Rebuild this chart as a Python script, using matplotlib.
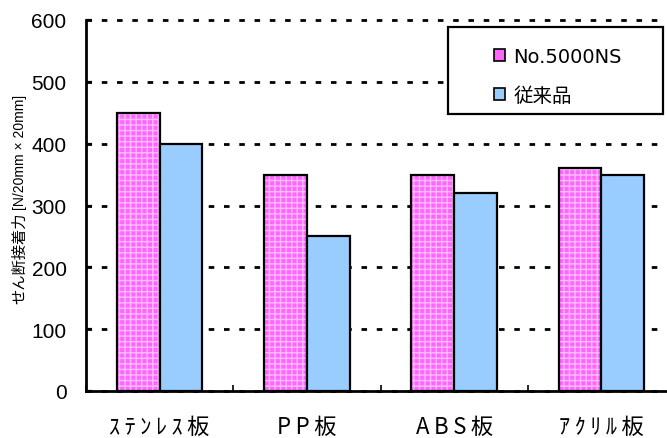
import numpy as np
import matplotlib
matplotlib.use("Agg")
import matplotlib.pyplot as plt
from matplotlib.patches import Patch, Rectangle

plt.rcParams['font.family'] = ['Noto Sans CJK JP', 'DejaVu Sans']
plt.rcParams['hatch.linewidth'] = 1.0

TS = "\u2009"  # thin space, widens the narrow kana / latin labels

categories = ["ｽﾃﾝﾚｽ板", "PP板", "ABS板", "ｱｸﾘﾙ板"]
series_names = ["No.5000NS", "従来品"]
new_values = [450, 350, 350, 360]
old_values = [400, 250, 320, 350]
yticks = [0, 100, 200, 300, 400, 500, 600]

PINK = "#FF66FF"
PINK_LIGHT = "#FFBBFF"
BLUE = "#99CCFF"

fig = plt.figure(figsize=(6.67, 4.39), dpi=100)
ax = fig.add_axes([86 / 667, 47 / 439, 589 / 667, 371 / 439])

x = np.arange(len(categories))
w = 0.29

# patterned fill first, black outline on top
ax.bar(x - w / 2, new_values, w, color=PINK, edgecolor=PINK_LIGHT,
       hatch="+++", linewidth=0, zorder=2)
ax.bar(x - w / 2, new_values, w, fill=False, edgecolor="black",
       linewidth=1.6, zorder=3)
ax.bar(x + w / 2, old_values, w, color=BLUE, edgecolor="black",
       linewidth=1.6, zorder=3)

ax.set_xlim(-0.5, len(categories) - 0.5)
ax.set_ylim(0, 600)
ax.set_yticks(yticks)
ax.set_yticklabels([str(v) for v in yticks], family="Liberation Sans",
                   fontsize=15)
ax.set_xticks(x)
ax.set_xticklabels([TS.join(c) for c in categories], fontsize=16)
ax.set_xticks(np.arange(len(categories) + 1) - 0.5, minor=True)
ax.tick_params(axis="x", which="major", length=0, pad=17)
ax.tick_params(axis="x", which="minor", direction="in", length=4, width=1.2)
ax.tick_params(axis="y", direction="in", length=4, width=1.6, pad=14)

for side in ("top", "right"):
    ax.spines[side].set_visible(False)
for side in ("left", "bottom"):
    ax.spines[side].set_linewidth(2)

ax.set_axisbelow(True)
ax.yaxis.grid(True, color="black", linewidth=2, linestyle=(0, (2, 3.5)))
for gl in ax.get_ygridlines():
    gl.set_clip_on(False)

fig.text(20 / 667, 1 - 258 / 439, "せん断接着力", rotation=90,
         ha="center", va="center", fontsize=11)
fig.text(20 / 667, 1 - 152 / 439, "[N/20mm × 20mm]", rotation=90,
         ha="center", va="center", fontsize=10, family="Liberation Sans")

# legend box
fig.patches.append(Rectangle((448 / 667, 1 - 115 / 439), 215 / 667, 87 / 439,
                             transform=fig.transFigure, facecolor="white",
                             edgecolor="black", linewidth=1.6, zorder=5))
handles = [Patch(facecolor=PINK, edgecolor="black", linewidth=1.2),
           Patch(facecolor=BLUE, edgecolor="black", linewidth=1.2)]
leg = fig.legend(handles, series_names, loc="upper left",
                 bbox_to_anchor=(484 / 667, 1 - 38 / 439), frameon=False,
                 prop={"family": ["DejaVu Sans", "Noto Sans CJK JP"],
                       "size": 14},
                 handlelength=0.6, handleheight=0.6,
                 handletextpad=0.4, labelspacing=1.05, borderpad=0)
leg.set_zorder(6)

fig.savefig("out.png", dpi=100)
